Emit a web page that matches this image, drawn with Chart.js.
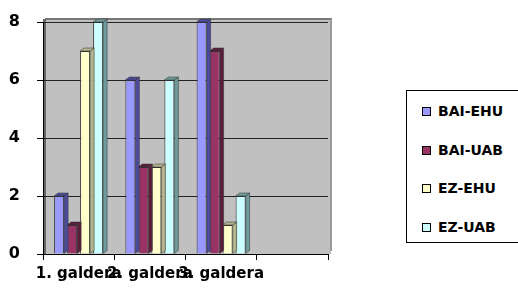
<!DOCTYPE html>
<html>
<head>
<meta charset="utf-8">
<script src="https://cdn.jsdelivr.net/npm/chart.js@4/dist/chart.umd.min.js"></script>
<style>
  body { margin: 0; background: #fff; }
  #wrap { position: relative; width: 518px; height: 292px; }
  #legend {
    position: absolute; left: 406px; top: 90px; width: 130px; height: 153px;
    border: 1.5px solid #000; box-sizing: border-box; background: #fff;
    font-family: "DejaVu Sans", sans-serif; font-weight: bold; font-size: 14px;
  }
  .item { position: absolute; left: 15px; height: 16px; line-height: 16px; white-space: nowrap; }
  .swatch { display: inline-block; width: 7px; height: 7px; border: 1.5px solid #000; margin-right: 7px; vertical-align: 0px; }
</style>
</head>
<body>
<div id="wrap">
  <canvas id="myChart" width="518" height="292"></canvas>
  <div id="legend"></div>
</div>
<script>
'use strict';

// data
let categories = ['1. galdera', '2. galdera', '3. galdera', ''];
let seriesNames = ['BAI-EHU', 'BAI-UAB', 'EZ-EHU', 'EZ-UAB'];
let baiEhu = [2, 6, 8, null];
let baiUab = [1, 3, 7, null];
let ezEhu = [7, 3, 1, null];
let ezUab = [8, 6, 2, null];
let yTicks = [0, 2, 4, 6, 8];
let seriesColors = ['#9999FF', '#993366', '#FFFFCC', '#CCFFFF'];
let sideColors = ['#4B4B99', '#5A1E3C', '#B3B38F', '#6F9A9A'];

const ctx = document.getElementById('myChart');
const xFont = { family: '"DejaVu Sans", sans-serif', size: 15, weight: 'bold' };
const yFont = { family: '"DejaVu Sans", sans-serif', size: 16, weight: 'bold' };

// gray wall behind the bars
let wallPlugin = {
  id: 'wall',
  beforeDraw(chart){
    let a = chart.chartArea;
    let c = chart.ctx;
    c.save();
    c.fillStyle = '#C0C0C0';
    c.fillRect(a.left, a.top - 3, a.right - a.left + 3, a.bottom - a.top + 3);
    c.fillStyle = '#777';
    c.fillRect(a.left + 2, a.top - 4, a.right - a.left + 2, 2);
    c.fillStyle = '#999';
    c.fillRect(a.right + 2, a.top - 3, 2, a.bottom - a.top);
    c.fillStyle = '#666';
    c.fillRect(a.left, a.top - 3, 3, a.bottom - a.top + 3);
    c.restore();
  }
};

// simple depth side on each bar
let sidePlugin = {
  id: 'sides',
  afterDatasetsDraw(chart){
    let c = chart.ctx;
    chart.data.datasets.forEach((ds, i) => {
      chart.getDatasetMeta(i).data.forEach(bar => {
        if (bar.skip || bar.y === undefined || isNaN(bar.y)) return;
        let left = bar.x - bar.width / 2;
        let right = bar.x + bar.width / 2;
        let h = bar.base - bar.y;
        if (!(h > 0)) return;
        c.save();
        c.fillStyle = sideColors[i];
        c.strokeStyle = '#333';
        c.lineWidth = 0.5;
        c.beginPath();
        c.moveTo(right, bar.y);
        c.lineTo(right + 4, bar.y - 3);
        c.lineTo(right + 4, bar.base - 3);
        c.lineTo(right, bar.base);
        c.closePath();
        c.fill();
        c.stroke();
        c.beginPath();
        c.moveTo(left, bar.y);
        c.lineTo(left + 4, bar.y - 3);
        c.lineTo(right + 4, bar.y - 3);
        c.lineTo(right, bar.y);
        c.closePath();
        c.fill();
        c.stroke();
        c.restore();
      });
    });
  }
};

let seriesData = [baiEhu, baiUab, ezEhu, ezUab];
let datasets = seriesNames.map((name, i) => ({
  label: name,
  data: seriesData[i],
  backgroundColor: seriesColors[i],
  borderColor: '#333',
  borderWidth: 1,
  categoryPercentage: 0.73,
  barPercentage: 0.77
}));

new Chart(ctx, {
  type: 'bar',
  data: { labels: categories, datasets: datasets },
  options: {
    responsive: false,
    animation: false,
    layout: { padding: { left: 8, right: 190, top: 22, bottom: 4 } },
    plugins: { legend: { display: false }, tooltip: { enabled: false } },
    scales: {
      y: {
        min: 0, max: 8,
        afterBuildTicks(axis){ axis.ticks = yTicks.map(v => ({ value: v })); },
        afterFit(scale){ scale.width = 35; scale.paddingTop = 0; scale.paddingBottom = 0; },
        ticks: { color: '#000', font: yFont, padding: 17 },
        grid: { color: '#222', lineWidth: 1, tickLength: 6, tickColor: '#000' },
        border: { color: '#000', width: 1 }
      },
      x: {
        afterFit(scale){ scale.paddingLeft = 0; scale.paddingRight = 0; },
        ticks: { color: '#000', font: xFont, autoSkip: false, maxRotation: 0, minRotation: 0, padding: 5 },
        grid: { offset: true, drawOnChartArea: false, tickLength: 6, tickColor: '#000' },
        border: { color: '#000', width: 1 }
      }
    }
  },
  plugins: [wallPlugin, sidePlugin]
});

// legend
let legend = document.getElementById('legend');
let tops = [12, 51, 89, 128];
seriesNames.forEach((name, i) => {
  let item = document.createElement('div');
  item.className = 'item';
  item.style.top = tops[i] + 'px';
  item.innerHTML = `<span class="swatch" style="background:${seriesColors[i]}"></span>${name}`;
  legend.appendChild(item);
});
</script>
</body>
</html>
